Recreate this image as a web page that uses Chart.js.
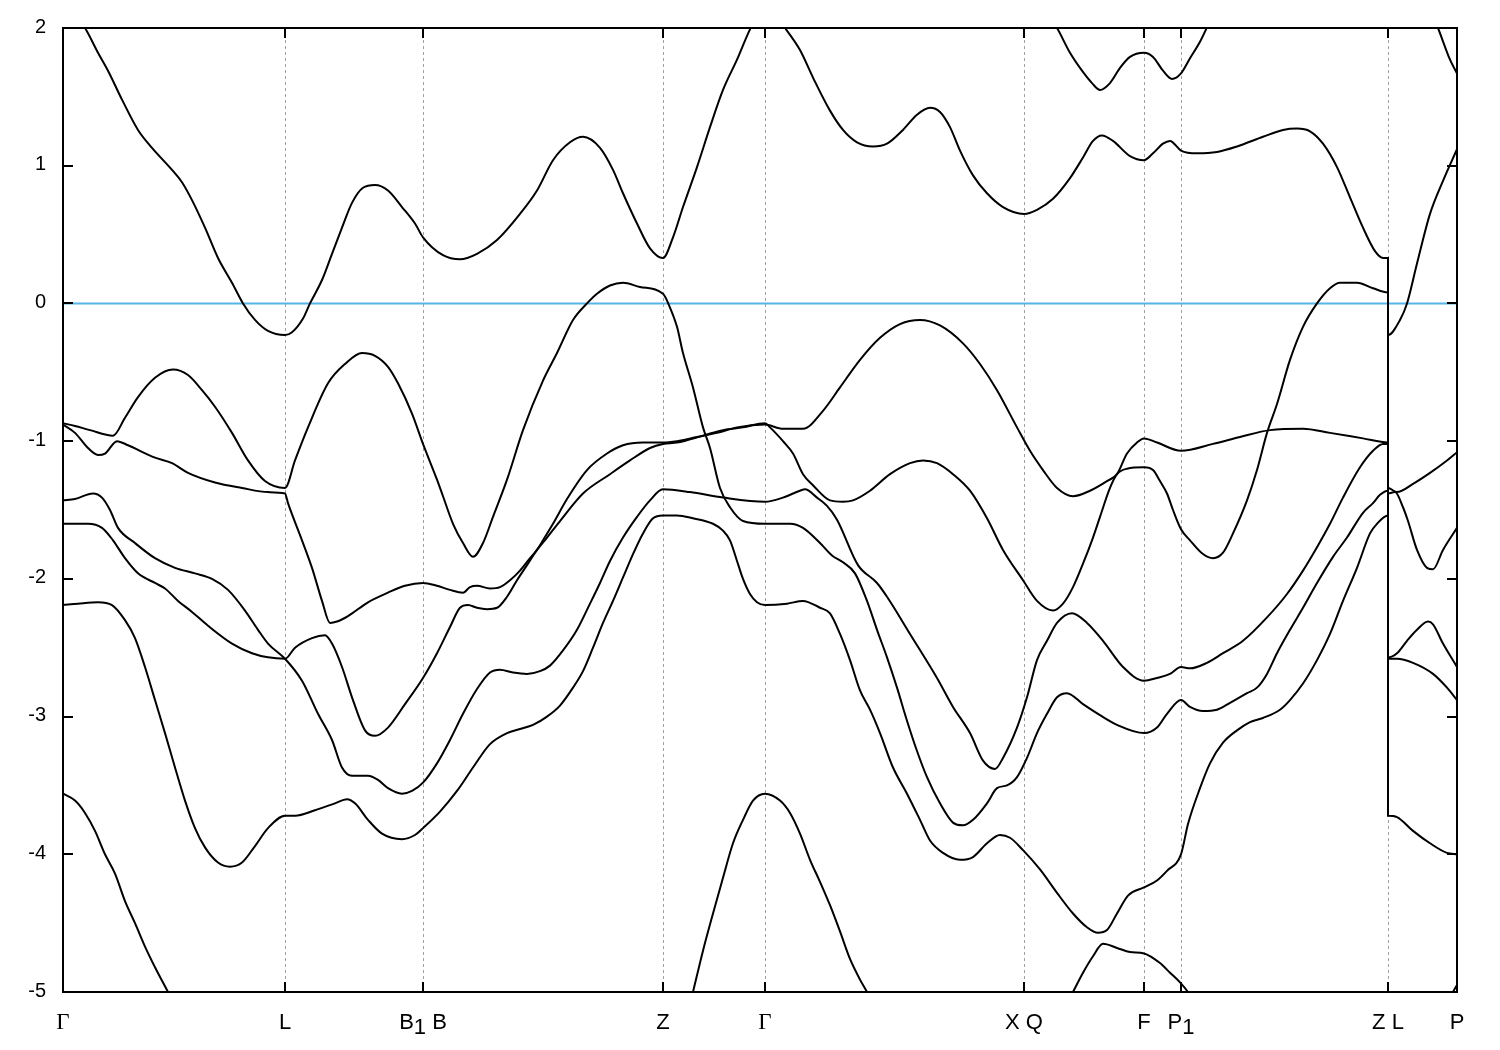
<!DOCTYPE html>
<html>
<head>
<meta charset="utf-8">
<script src="https://cdn.jsdelivr.net/npm/chart.js@4.4.1/dist/chart.umd.min.js"></script>
<style>
  html, body { margin: 0; padding: 0; background: #fff; }
  #wrap { width: 1500px; height: 1050px; }
</style>
</head>
<body>
<div id="wrap"><canvas id="bands"></canvas></div>
<script>
// high symmetry points along the k-path
const symK = [0, 2.22, 3.60, 6.00, 7.02, 9.61, 10.81, 11.18, 13.25, 13.94];
const symLabels = ['Γ', 'L', 'B_1 B', 'Z', 'Γ', 'X Q', 'F', 'P_1', 'Z L', 'P'];
const energyTicks = [-5, -4, -3, -2, -1, 0, 1, 2];
const fermiLevel = 0;

// bands as [k, E] pairs (E in eV)
const bandA = [[0.00,2.20],[0.22,2.00],[0.35,1.82],[0.45,1.69],[0.59,1.48],[0.75,1.26],[0.89,1.13],[1.09,0.97],[1.19,0.88],[1.29,0.75],[1.42,0.55],[1.55,0.33],[1.69,0.15],[1.80,0.00],[1.92,-0.12],[2.05,-0.20],[2.22,-0.23],[2.29,-0.21],[2.40,-0.11],[2.47,0.00],[2.59,0.17],[2.69,0.36],[2.79,0.55],[2.89,0.73],[3.00,0.84],[3.12,0.86],[3.25,0.82],[3.39,0.70],[3.52,0.58],[3.60,0.48],[3.80,0.35],[3.97,0.32],[4.14,0.36],[4.34,0.46],[4.57,0.65],[4.74,0.82],[4.90,1.04],[5.07,1.17],[5.20,1.21],[5.37,1.13],[5.50,0.97],[5.60,0.80],[5.74,0.58],[5.87,0.40],[6.00,0.33],[6.10,0.48],[6.20,0.70],[6.34,0.99],[6.47,1.28],[6.60,1.55],[6.74,1.77],[6.87,1.99],[7.02,2.18],[7.22,2.00],[7.37,1.84],[7.50,1.64],[7.67,1.40],[7.80,1.26],[7.94,1.17],[8.10,1.14],[8.24,1.16],[8.40,1.26],[8.54,1.37],[8.67,1.42],[8.77,1.39],[8.87,1.28],[8.97,1.11],[9.10,0.93],[9.24,0.80],[9.40,0.70],[9.61,0.65],[9.74,0.68],[9.90,0.76],[10.07,0.91],[10.20,1.06],[10.30,1.18],[10.39,1.22],[10.50,1.18],[10.67,1.07],[10.81,1.04],[10.90,1.09],[11.00,1.16],[11.07,1.18],[11.18,1.11],[11.34,1.09],[11.54,1.10],[11.74,1.14],[12.00,1.21],[12.20,1.26],[12.34,1.27],[12.47,1.25],[12.60,1.16],[12.74,0.99],[12.87,0.77],[13.00,0.55],[13.12,0.38],[13.20,0.33],[13.25,0.33],[13.25,-0.23],[13.37,-0.12],[13.44,0.00],[13.54,0.29],[13.67,0.65],[13.80,0.89],[13.94,1.12]];

const bandB = [[0.00,3.00],[3.60,2.90],[7.02,2.70],[9.37,2.35],[9.82,2.12],[9.94,2.00],[10.07,1.82],[10.19,1.69],[10.29,1.60],[10.37,1.55],[10.47,1.60],[10.57,1.71],[10.67,1.79],[10.81,1.82],[10.90,1.79],[11.00,1.69],[11.09,1.63],[11.18,1.67],[11.27,1.78],[11.37,1.90],[11.45,2.02],[11.57,2.20],[12.37,2.60],[13.25,2.70],[13.25,2.60],[13.57,2.30],[13.75,2.00],[13.87,1.77],[13.94,1.67]];

const bandC = [[0.00,-0.87],[0.12,-0.89],[0.27,-0.92],[0.50,-0.96],[0.62,-0.83],[0.75,-0.68],[0.92,-0.54],[1.10,-0.48],[1.25,-0.52],[1.39,-0.63],[1.52,-0.75],[1.69,-0.94],[1.85,-1.14],[2.02,-1.29],[2.22,-1.34],[2.32,-1.14],[2.45,-0.90],[2.65,-0.58],[2.82,-0.44],[2.99,-0.36],[3.12,-0.38],[3.25,-0.46],[3.35,-0.58],[3.49,-0.80],[3.60,-1.02],[3.74,-1.28],[3.80,-1.40],[3.90,-1.60],[4.00,-1.74],[4.10,-1.84],[4.20,-1.74],[4.30,-1.55],[4.44,-1.28],[4.60,-0.92],[4.80,-0.56],[4.94,-0.36],[5.10,-0.12],[5.24,0.00],[5.34,0.07],[5.47,0.13],[5.60,0.15],[5.77,0.12],[6.00,0.07],[6.07,-0.03],[6.14,-0.17],[6.20,-0.36],[6.30,-0.61],[6.40,-0.90],[6.47,-1.05],[6.57,-1.34],[6.67,-1.48],[6.80,-1.58],[7.02,-1.60],[7.27,-1.60],[7.40,-1.63],[7.57,-1.74],[7.69,-1.83],[7.80,-1.88],[7.92,-1.96],[8.04,-2.16],[8.14,-2.37],[8.24,-2.57],[8.34,-2.79],[8.44,-3.03],[8.54,-3.25],[8.64,-3.44],[8.77,-3.63],[8.90,-3.77],[9.00,-3.79],[9.10,-3.75],[9.24,-3.63],[9.34,-3.52],[9.44,-3.50],[9.54,-3.44],[9.64,-3.30],[9.74,-3.12],[9.84,-2.98],[9.94,-2.86],[10.04,-2.83],[10.20,-2.91],[10.37,-2.99],[10.54,-3.06],[10.81,-3.12],[10.94,-3.08],[11.04,-2.98],[11.18,-2.88],[11.27,-2.93],[11.40,-2.96],[11.54,-2.95],[11.67,-2.90],[11.84,-2.83],[11.94,-2.79],[12.04,-2.69],[12.14,-2.54],[12.27,-2.37],[12.40,-2.21],[12.54,-2.03],[12.70,-1.84],[12.84,-1.70],[13.00,-1.52],[13.10,-1.45],[13.17,-1.39],[13.25,-1.36],[13.25,-2.58],[13.34,-2.58],[13.50,-2.61],[13.70,-2.69],[13.84,-2.79],[13.94,-2.88]];

const bandD = [[0.00,-0.88],[0.12,-0.94],[0.25,-1.05],[0.35,-1.10],[0.42,-1.09],[0.54,-1.00],[0.65,-1.03],[0.92,-1.12],[1.09,-1.16],[1.25,-1.23],[1.52,-1.30],[1.79,-1.34],[2.05,-1.37],[2.22,-1.38],[2.25,-1.45],[2.39,-1.72],[2.49,-1.92],[2.59,-2.16],[2.67,-2.32],[2.74,-2.31],[2.85,-2.27],[3.05,-2.17],[3.25,-2.10],[3.42,-2.05],[3.60,-2.03],[3.74,-2.05],[3.87,-2.08],[4.00,-2.10],[4.07,-2.06],[4.14,-2.05],[4.27,-2.07],[4.37,-2.06],[4.47,-2.01],[4.57,-1.94],[4.67,-1.85],[4.74,-1.79],[4.80,-1.72],[4.90,-1.60],[5.04,-1.42],[5.24,-1.21],[5.44,-1.09],[5.60,-1.03],[5.80,-1.01],[6.00,-1.01],[6.14,-1.00],[6.34,-0.97],[6.54,-0.94],[6.74,-0.90],[7.02,-0.88],[7.20,-0.91],[7.40,-0.91],[7.60,-0.78],[7.77,-0.61],[7.97,-0.41],[8.17,-0.25],[8.37,-0.15],[8.57,-0.12],[8.77,-0.16],[9.00,-0.29],[9.17,-0.44],[9.34,-0.63],[9.54,-0.90],[9.67,-1.07],[9.80,-1.21],[9.94,-1.34],[10.10,-1.40],[10.27,-1.36],[10.44,-1.29],[10.54,-1.24],[10.64,-1.09],[10.74,-1.01],[10.81,-0.98],[10.94,-1.01],[11.18,-1.07],[11.50,-1.02],[11.77,-0.97],[12.07,-0.92],[12.40,-0.91],[12.67,-0.94],[13.00,-0.98],[13.25,-1.01],[13.25,-1.38],[13.32,-1.37],[13.40,-1.48],[13.45,-1.58],[13.54,-1.79],[13.64,-1.92],[13.70,-1.93],[13.80,-1.79],[13.94,-1.63]];

const bandE = [[0.00,-1.43],[0.12,-1.42],[0.30,-1.38],[0.39,-1.41],[0.47,-1.50],[0.55,-1.63],[0.72,-1.74],[0.92,-1.85],[1.12,-1.92],[1.32,-1.96],[1.49,-2.00],[1.65,-2.08],[1.82,-2.23],[1.95,-2.37],[2.05,-2.47],[2.22,-2.58],[2.39,-2.74],[2.55,-2.98],[2.69,-3.17],[2.79,-3.37],[2.89,-3.43],[3.05,-3.43],[3.15,-3.46],[3.25,-3.52],[3.39,-3.56],[3.49,-3.54],[3.60,-3.48],[3.74,-3.34],[3.87,-3.17],[4.00,-2.98],[4.14,-2.80],[4.27,-2.68],[4.37,-2.66],[4.50,-2.68],[4.64,-2.69],[4.77,-2.67],[4.87,-2.63],[5.00,-2.52],[5.14,-2.37],[5.27,-2.18],[5.37,-2.03],[5.47,-1.87],[5.60,-1.70],[5.74,-1.55],[5.87,-1.43],[6.00,-1.35],[6.27,-1.37],[6.60,-1.41],[7.02,-1.44],[7.20,-1.41],[7.37,-1.36],[7.42,-1.35],[7.54,-1.41],[7.64,-1.47],[7.74,-1.57],[7.95,-1.90],[8.14,-2.03],[8.24,-2.13],[8.47,-2.40],[8.74,-2.72],[8.90,-2.93],[9.07,-3.12],[9.20,-3.32],[9.32,-3.38],[9.40,-3.30],[9.54,-3.08],[9.64,-2.86],[9.74,-2.59],[9.84,-2.45],[9.94,-2.32],[10.09,-2.25],[10.24,-2.32],[10.40,-2.45],[10.60,-2.64],[10.81,-2.74],[10.94,-2.72],[11.07,-2.69],[11.18,-2.64],[11.27,-2.65],[11.44,-2.61],[11.60,-2.54],[11.80,-2.45],[12.04,-2.28],[12.24,-2.11],[12.40,-1.94],[12.54,-1.77],[12.67,-1.60],[12.80,-1.41],[12.97,-1.19],[13.10,-1.07],[13.20,-1.02],[13.25,-1.02],[13.25,-2.57],[13.34,-2.54],[13.44,-2.45],[13.54,-2.37],[13.65,-2.31],[13.70,-2.33],[13.80,-2.47],[13.94,-2.64]];

const bandF = [[0.00,-1.60],[0.25,-1.60],[0.39,-1.63],[0.50,-1.72],[0.62,-1.85],[0.75,-1.96],[0.92,-2.03],[1.02,-2.07],[1.15,-2.16],[1.29,-2.24],[1.45,-2.34],[1.69,-2.47],[1.89,-2.54],[2.05,-2.57],[2.22,-2.58],[2.32,-2.50],[2.49,-2.43],[2.62,-2.41],[2.69,-2.47],[2.79,-2.64],[2.89,-2.86],[3.02,-3.10],[3.12,-3.14],[3.25,-3.08],[3.42,-2.91],[3.60,-2.72],[3.74,-2.54],[3.87,-2.35],[3.97,-2.21],[4.05,-2.19],[4.14,-2.21],[4.24,-2.22],[4.34,-2.21],[4.44,-2.13],[4.54,-2.01],[4.64,-1.90],[4.74,-1.79],[4.84,-1.70],[4.97,-1.58],[5.20,-1.38],[5.47,-1.24],[5.67,-1.14],[5.87,-1.05],[6.00,-1.02],[6.14,-1.01],[6.40,-0.96],[6.60,-0.92],[6.80,-0.90],[7.02,-0.87],[7.07,-0.90],[7.20,-1.00],[7.30,-1.09],[7.40,-1.24],[7.50,-1.32],[7.67,-1.43],[7.80,-1.44],[7.90,-1.43],[8.07,-1.36],[8.27,-1.24],[8.47,-1.16],[8.60,-1.14],[8.74,-1.16],[8.90,-1.24],[9.07,-1.36],[9.24,-1.56],[9.40,-1.79],[9.60,-2.01],[9.74,-2.16],[9.90,-2.23],[10.00,-2.18],[10.10,-2.06],[10.20,-1.89],[10.30,-1.70],[10.37,-1.55],[10.47,-1.34],[10.54,-1.24],[10.64,-1.20],[10.81,-1.19],[10.90,-1.21],[10.97,-1.29],[11.04,-1.38],[11.10,-1.50],[11.18,-1.64],[11.27,-1.72],[11.40,-1.82],[11.50,-1.85],[11.60,-1.81],[11.70,-1.67],[11.84,-1.43],[11.94,-1.21],[12.04,-0.94],[12.14,-0.73],[12.27,-0.41],[12.40,-0.17],[12.54,0.00],[12.67,0.11],[12.77,0.15],[12.94,0.15],[13.10,0.11],[13.25,0.08],[13.25,-1.34],[13.34,-1.37],[13.50,-1.31],[13.67,-1.23],[13.84,-1.14],[13.94,-1.08]];

const bandG = [[0.00,-2.19],[0.15,-2.18],[0.35,-2.17],[0.49,-2.19],[0.62,-2.30],[0.72,-2.43],[0.82,-2.64],[0.92,-2.88],[1.02,-3.12],[1.12,-3.37],[1.22,-3.61],[1.32,-3.81],[1.42,-3.95],[1.55,-4.06],[1.67,-4.09],[1.79,-4.06],[1.92,-3.94],[2.05,-3.81],[2.22,-3.72],[2.32,-3.72],[2.52,-3.68],[2.72,-3.63],[2.84,-3.60],[2.92,-3.63],[3.05,-3.75],[3.19,-3.85],[3.39,-3.89],[3.52,-3.86],[3.60,-3.81],[3.77,-3.69],[3.94,-3.54],[4.10,-3.37],[4.27,-3.20],[4.44,-3.12],[4.57,-3.09],[4.70,-3.06],[4.84,-3.00],[4.97,-2.92],[5.10,-2.79],[5.20,-2.67],[5.30,-2.50],[5.40,-2.32],[5.50,-2.16],[5.60,-1.99],[5.70,-1.82],[5.80,-1.67],[5.90,-1.56],[6.00,-1.54],[6.14,-1.54],[6.30,-1.56],[6.50,-1.60],[6.60,-1.65],[6.67,-1.72],[6.74,-1.87],[6.80,-2.00],[6.87,-2.11],[6.94,-2.17],[7.02,-2.19],[7.24,-2.18],[7.40,-2.16],[7.57,-2.21],[7.67,-2.25],[7.77,-2.40],[7.87,-2.59],[7.97,-2.81],[8.07,-2.95],[8.17,-3.12],[8.30,-3.37],[8.44,-3.56],[8.57,-3.75],[8.67,-3.90],[8.80,-3.99],[8.97,-4.04],[9.10,-4.02],[9.24,-3.92],[9.37,-3.86],[9.47,-3.88],[9.60,-3.97],[9.77,-4.11],[9.94,-4.28],[10.10,-4.43],[10.24,-4.53],[10.35,-4.57],[10.44,-4.55],[10.54,-4.43],[10.65,-4.30],[10.81,-4.24],[10.94,-4.19],[11.04,-4.12],[11.18,-4.00],[11.25,-3.78],[11.37,-3.52],[11.47,-3.34],[11.60,-3.19],[11.74,-3.10],[11.87,-3.04],[12.00,-3.01],[12.17,-2.95],[12.27,-2.88],[12.40,-2.76],[12.54,-2.59],[12.67,-2.40],[12.80,-2.16],[12.94,-1.92],[13.07,-1.67],[13.14,-1.60],[13.25,-1.54],[13.25,-3.72],[13.34,-3.73],[13.50,-3.83],[13.67,-3.92],[13.84,-3.99],[13.94,-4.00]];

const bandH = [[0.00,-3.56],[0.12,-3.61],[0.22,-3.70],[0.32,-3.83],[0.42,-4.00],[0.52,-4.14],[0.62,-4.34],[0.72,-4.50],[0.82,-4.67],[0.92,-4.82],[1.05,-5.00],[1.37,-5.45],[2.22,-6.20],[3.60,-6.60],[4.87,-6.50],[6.00,-5.90],[6.17,-5.39],[6.30,-5.00],[6.40,-4.70],[6.50,-4.43],[6.60,-4.17],[6.70,-3.92],[6.80,-3.75],[6.90,-3.61],[7.02,-3.56],[7.17,-3.61],[7.27,-3.70],[7.37,-3.85],[7.47,-4.04],[7.57,-4.20],[7.67,-4.37],[7.77,-4.56],[7.87,-4.76],[7.97,-4.91],[8.04,-5.00],[8.37,-5.50],[9.07,-5.90],[9.77,-5.45],[9.97,-5.18],[10.10,-5.00],[10.20,-4.86],[10.30,-4.74],[10.40,-4.65],[10.54,-4.68],[10.67,-4.71],[10.81,-4.72],[10.97,-4.79],[11.07,-4.86],[11.17,-4.93],[11.25,-5.00],[11.67,-5.50],[13.25,-6.00],[13.25,-5.60],[13.77,-5.20],[13.90,-5.00],[13.94,-4.95]];

const bands = [bandA, bandB, bandC, bandD, bandE, bandF, bandG, bandH];

// draws the gnuplot-style frame: dashed symmetry lines, inward ticks, labels
const framePlugin = {
  id: 'frame',
  beforeDatasetsDraw(chart) {
    const { ctx, chartArea: a, scales: { x } } = chart;
    ctx.save();
    ctx.strokeStyle = '#a0a0a0';
    ctx.lineWidth = 1;
    ctx.setLineDash([3, 3]);
    symK.slice(1, -1).forEach(k => {
      const px = Math.round(x.getPixelForValue(k)) + 0.5;
      ctx.beginPath();
      ctx.moveTo(px, a.top);
      ctx.lineTo(px, a.bottom);
      ctx.stroke();
    });
    ctx.restore();
  },
  afterDatasetsDraw(chart) {
    const { ctx, chartArea: a, scales: { x, y } } = chart;
    ctx.save();
    ctx.strokeStyle = '#000';
    ctx.lineWidth = 2;
    ctx.strokeRect(a.left, a.top, a.right - a.left, a.bottom - a.top);
    ctx.beginPath();
    energyTicks.forEach(e => {
      const py = Math.round(y.getPixelForValue(e));
      ctx.moveTo(a.left, py); ctx.lineTo(a.left + 10, py);
      ctx.moveTo(a.right, py); ctx.lineTo(a.right - 10, py);
    });
    symK.forEach(k => {
      const px = Math.round(x.getPixelForValue(k));
      ctx.moveTo(px, a.bottom); ctx.lineTo(px, a.bottom - 10);
      ctx.moveTo(px, a.top); ctx.lineTo(px, a.top + 10);
    });
    ctx.stroke();

    ctx.fillStyle = '#000';
    ctx.font = '20px "Liberation Sans", Arial, sans-serif';
    ctx.textAlign = 'right';
    ctx.textBaseline = 'middle';
    energyTicks.forEach(e => ctx.fillText(String(e), a.left - 17, y.getPixelForValue(e) - 1));

    // k-point labels, "_1" is drawn as a lowered subscript
    const sans = '22px "Liberation Sans", Arial, sans-serif';
    const serif = '23px "Liberation Serif", "DejaVu Serif", serif';
    ctx.textAlign = 'left';
    ctx.textBaseline = 'alphabetic';
    symK.forEach((k, i) => {
      const parts = [];
      symLabels[i].split(/(_.)/).forEach(s => {
        if (!s) return;
        if (s[0] === '_') parts.push({ t: s[1], sub: true });
        else parts.push({ t: s, sub: false });
      });
      let total = 0;
      parts.forEach(p => {
        ctx.font = p.t === 'Γ' ? serif : sans;
        p.w = ctx.measureText(p.t).width;
        total += p.w;
      });
      let cx = x.getPixelForValue(k) - total / 2;
      const base = a.bottom + 37;
      parts.forEach(p => {
        ctx.font = p.t === 'Γ' ? serif : sans;
        ctx.fillText(p.t, cx, p.sub ? base + 5 : base);
        cx += p.w;
      });
    });
    ctx.restore();
  }
};

const datasets = bands.map(b => ({
  data: b.map(([k, e]) => ({ x: k, y: e })),
  borderColor: '#000',
  borderWidth: 2,
  pointRadius: 0,
  fill: false,
  cubicInterpolationMode: 'monotone',
  order: 1
}));
datasets.push({
  data: [{ x: symK[0], y: fermiLevel }, { x: symK[symK.length - 1], y: fermiLevel }],
  borderColor: '#56b4e9',
  borderWidth: 2,
  pointRadius: 0,
  fill: false,
  order: 2
});

new Chart(document.getElementById('bands'), {
  type: 'line',
  data: { datasets },
  options: {
    responsive: true,
    maintainAspectRatio: false,
    animation: false,
    layout: { padding: { left: 63, right: 43, top: 28, bottom: 58 } },
    scales: {
      x: { type: 'linear', min: 0, max: 13.94, display: false },
      y: { type: 'linear', min: -5, max: 2, display: false }
    },
    plugins: { legend: { display: false }, tooltip: { enabled: false } }
  },
  plugins: [framePlugin]
});
</script>
</body>
</html>
